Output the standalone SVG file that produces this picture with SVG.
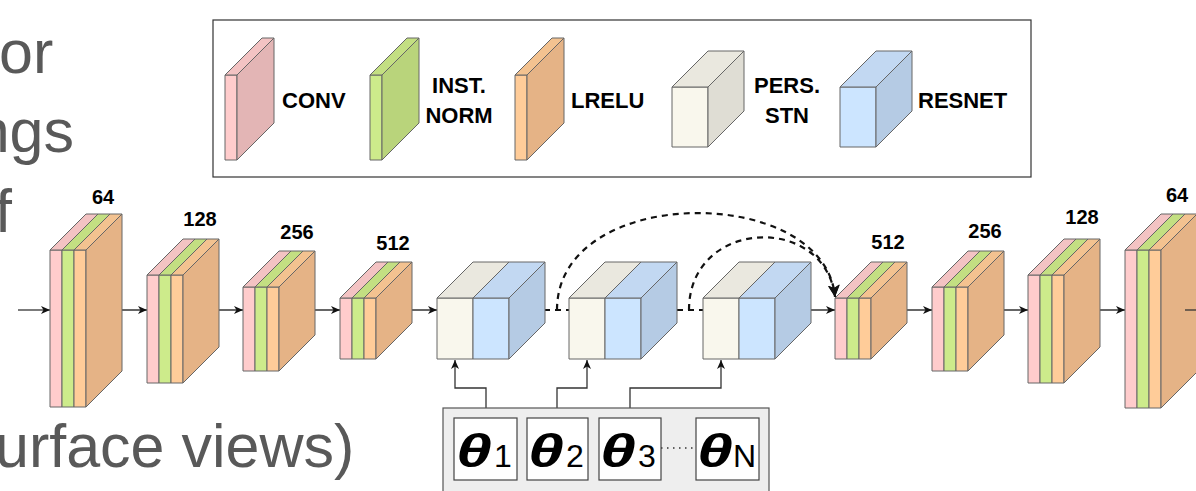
<svg xmlns="http://www.w3.org/2000/svg" width="1196" height="491" viewBox="0 0 1196 491">
<style>
.s{stroke:#666;stroke-width:1;stroke-linejoin:round}
.pk{fill:#FFCCCC}.pkt{fill:#F3C3C3}.pks{fill:#E3B5B5}
.gr{fill:#CDEB8B}.grt{fill:#C3DF82}.grs{fill:#B9D47B}
.or{fill:#FFCC99}.ort{fill:#F3C290}.ors{fill:#E5B386}
.ps{fill:#F9F7ED}.pst{fill:#EAE8DF}.pss{fill:#DFDDD4}
.rs{fill:#CCE5FF}.rst{fill:#C2D8F2}.rss{fill:#B5CBE4}
.lbl{font-family:"Liberation Sans",Arial,sans-serif;font-weight:bold;font-size:20px;fill:#000;text-anchor:middle}
.lg{font-family:"Liberation Sans",Arial,sans-serif;font-weight:bold;font-size:22px;fill:#000}
.bg{font-family:"Liberation Sans",Arial,sans-serif;font-size:61px;fill:#595959}
.ln{fill:none;stroke:#333;stroke-width:1.3}
.dl{fill:none;stroke:#111;stroke-width:2.2;stroke-dasharray:6,5}
.th{font-family:"Liberation Sans",Arial,sans-serif;font-weight:bold;font-style:italic;font-size:46px;fill:#000}
.sub{font-family:"Liberation Sans",Arial,sans-serif;font-size:32px;fill:#000}
</style>
<defs>
<marker id="ah" markerWidth="10" markerHeight="8" refX="9" refY="4" orient="auto" markerUnits="userSpaceOnUse">
<path d="M0,0 L9,4 L0,8 L2.5,4 z" fill="#111"/>
</marker>
<marker id="ahb" markerWidth="13" markerHeight="12" refX="12" refY="6" orient="auto" markerUnits="userSpaceOnUse">
<path d="M0,0 L12,6 L0,12 L3,6 z" fill="#111"/>
</marker>
</defs>
<rect width="1196" height="491" fill="#fff"/>

<g id="side-text">
<text class="bg" x="-1" y="73">or</text>
<text class="bg" x="74" y="152" text-anchor="end">ngs</text>
<text class="bg" x="12" y="232" text-anchor="end">f</text>
<text class="bg" x="-5" y="467">urface views)</text>
</g>

<g id="legend">
<rect x="213" y="20" width="818" height="157" fill="#fff" stroke="#333" stroke-width="1.2"/>
<g id="leg-conv" class="s">
<rect class="pk" x="225" y="75" width="12" height="85"/>
<polygon class="pkt" points="225,75 237,75 274,38 262,38"/>
<polygon class="pks" points="237,75 274,38 274,123 237,160"/>
</g>
<text class="lg" x="282" y="108">CONV</text>
<g id="leg-norm" class="s">
<rect class="gr" x="370" y="75" width="12" height="85"/>
<polygon class="grt" points="370,75 382,75 419,38 407,38"/>
<polygon class="grs" points="382,75 419,38 419,123 382,160"/>
</g>
<text class="lg" x="459" y="93" text-anchor="middle">INST.</text>
<text class="lg" x="459" y="123" text-anchor="middle">NORM</text>
<g id="leg-lrelu" class="s">
<rect class="or" x="515" y="75" width="12" height="85"/>
<polygon class="ort" points="515,75 527,75 564,38 552,38"/>
<polygon class="ors" points="527,75 564,38 564,123 527,160"/>
</g>
<text class="lg" x="571" y="108">LRELU</text>
<g id="leg-stn" class="s">
<rect class="ps" x="672" y="87" width="36" height="60"/>
<polygon class="pst" points="672,87 708,87 744,51 708,51"/>
<polygon class="pss" points="708,87 744,51 744,111 708,147"/>
</g>
<text class="lg" x="787" y="93" text-anchor="middle">PERS.</text>
<text class="lg" x="787" y="123" text-anchor="middle">STN</text>
<g id="leg-resnet" class="s">
<rect class="rs" x="840" y="87" width="36" height="60"/>
<polygon class="rst" points="840,87 876,87 912,51 876,51"/>
<polygon class="rss" points="876,87 912,51 912,111 876,147"/>
</g>
<text class="lg" x="918" y="108">RESNET</text>
</g>

<g id="connectors">
<path class="ln" d="M18,310 H50" marker-end="url(#ah)"/>
<path class="ln" d="M111,310 H147" marker-end="url(#ah)"/>
<path class="ln" d="M207,310 H243" marker-end="url(#ah)"/>
<path class="ln" d="M304,310 H340" marker-end="url(#ah)"/>
<path class="ln" d="M400,310 H437" marker-end="url(#ah)"/>
<path class="dl" d="M533,310 H569"/>
<path class="dl" d="M666,310 H703"/>
<path class="ln" d="M798,310 H835" marker-end="url(#ah)"/>
<path class="ln" d="M896,310 H932" marker-end="url(#ah)"/>
<path class="ln" d="M992,310 H1028" marker-end="url(#ah)"/>
<path class="ln" d="M1089,310 H1125" marker-end="url(#ah)"/>
<path class="dl" d="M557,310 C557,183 825,183 835,297" marker-end="url(#ahb)"/>
<path class="dl" d="M689,310 C689,218 825,213 835,297" marker-end="url(#ahb)"/>
<path class="ln" d="M486,418 V388 H455 V360" marker-end="url(#ah)"/>
<path class="ln" d="M557,418 V388 H587 V360" marker-end="url(#ah)"/>
<path class="ln" d="M630,418 V388 H721 V360" marker-end="url(#ah)"/>
</g>

<g id="enc64" class="s">
<rect class="pk" x="50" y="250" width="12" height="157"/><rect class="gr" x="62" y="250" width="12" height="157"/><rect class="or" x="74" y="250" width="12" height="157"/>
<polygon class="pkt" points="50,250 62,250 98,214 86,214"/><polygon class="grt" points="62,250 74,250 110,214 98,214"/><polygon class="ort" points="74,250 86,250 122,214 110,214"/>
<polygon class="ors" points="86,250 122,214 122,371 86,407"/>
</g>
<text class="lbl" x="103" y="204">64</text>
<g id="enc128" class="s">
<rect class="pk" x="147" y="275" width="12" height="108"/><rect class="gr" x="159" y="275" width="12" height="108"/><rect class="or" x="171" y="275" width="12" height="108"/>
<polygon class="pkt" points="147,275 159,275 195,239 183,239"/><polygon class="grt" points="159,275 171,275 207,239 195,239"/><polygon class="ort" points="171,275 183,275 219,239 207,239"/>
<polygon class="ors" points="183,275 219,239 219,347 183,383"/>
</g>
<text class="lbl" x="200" y="226">128</text>
<g id="enc256" class="s">
<rect class="pk" x="243" y="287" width="12" height="84"/><rect class="gr" x="255" y="287" width="12" height="84"/><rect class="or" x="267" y="287" width="12" height="84"/>
<polygon class="pkt" points="243,287 255,287 291,251 279,251"/><polygon class="grt" points="255,287 267,287 303,251 291,251"/><polygon class="ort" points="267,287 279,287 315,251 303,251"/>
<polygon class="ors" points="279,287 315,251 315,335 279,371"/>
</g>
<text class="lbl" x="297" y="239">256</text>
<g id="enc512" class="s">
<rect class="pk" x="340" y="298" width="12" height="61"/><rect class="gr" x="352" y="298" width="12" height="61"/><rect class="or" x="364" y="298" width="12" height="61"/>
<polygon class="pkt" points="340,298 352,298 388,262 376,262"/><polygon class="grt" points="352,298 364,298 400,262 388,262"/><polygon class="ort" points="364,298 376,298 412,262 400,262"/>
<polygon class="ors" points="376,298 412,262 412,323 376,359"/>
</g>
<text class="lbl" x="393" y="250">512</text>

<g id="stn1" class="s">
<rect class="ps" x="437" y="298" width="36" height="61"/><rect class="rs" x="473" y="298" width="36" height="61"/>
<polygon class="pst" points="437,298 473,298 509,262 473,262"/><polygon class="rst" points="473,298 509,298 545,262 509,262"/>
<polygon class="rss" points="509,298 545,262 545,323 509,359"/>
</g>
<g id="stn2" class="s">
<rect class="ps" x="569" y="298" width="36" height="61"/><rect class="rs" x="605" y="298" width="36" height="61"/>
<polygon class="pst" points="569,298 605,298 641,262 605,262"/><polygon class="rst" points="605,298 641,298 677,262 641,262"/>
<polygon class="rss" points="641,298 677,262 677,323 641,359"/>
</g>
<g id="stn3" class="s">
<rect class="ps" x="703" y="298" width="36" height="61"/><rect class="rs" x="739" y="298" width="36" height="61"/>
<polygon class="pst" points="703,298 739,298 775,262 739,262"/><polygon class="rst" points="739,298 775,298 811,262 775,262"/>
<polygon class="rss" points="775,298 811,262 811,323 775,359"/>
</g>

<g id="dec512" class="s">
<rect class="pk" x="835" y="298" width="12" height="61"/><rect class="gr" x="847" y="298" width="12" height="61"/><rect class="or" x="859" y="298" width="12" height="61"/>
<polygon class="pkt" points="835,298 847,298 883,262 871,262"/><polygon class="grt" points="847,298 859,298 895,262 883,262"/><polygon class="ort" points="859,298 871,298 907,262 895,262"/>
<polygon class="ors" points="871,298 907,262 907,323 871,359"/>
</g>
<text class="lbl" x="888" y="249">512</text>
<g id="dec256" class="s">
<rect class="pk" x="932" y="287" width="12" height="84"/><rect class="gr" x="944" y="287" width="12" height="84"/><rect class="or" x="956" y="287" width="12" height="84"/>
<polygon class="pkt" points="932,287 944,287 980,251 968,251"/><polygon class="grt" points="944,287 956,287 992,251 980,251"/><polygon class="ort" points="956,287 968,287 1004,251 992,251"/>
<polygon class="ors" points="968,287 1004,251 1004,335 968,371"/>
</g>
<text class="lbl" x="985" y="238">256</text>
<g id="dec128" class="s">
<rect class="pk" x="1028" y="275" width="12" height="108"/><rect class="gr" x="1040" y="275" width="12" height="108"/><rect class="or" x="1052" y="275" width="12" height="108"/>
<polygon class="pkt" points="1028,275 1040,275 1076,239 1064,239"/><polygon class="grt" points="1040,275 1052,275 1088,239 1076,239"/><polygon class="ort" points="1052,275 1064,275 1100,239 1088,239"/>
<polygon class="ors" points="1064,275 1100,239 1100,347 1064,383"/>
</g>
<text class="lbl" x="1082" y="224">128</text>
<g id="dec64" class="s">
<rect class="pk" x="1125" y="250" width="12" height="158"/><rect class="gr" x="1137" y="250" width="12" height="158"/><rect class="or" x="1149" y="250" width="12" height="158"/>
<polygon class="pkt" points="1125,250 1137,250 1173,214 1161,214"/><polygon class="grt" points="1137,250 1149,250 1185,214 1173,214"/><polygon class="ort" points="1149,250 1161,250 1197,214 1185,214"/>
<polygon class="ors" points="1161,250 1197,214 1197,372 1161,408"/>
</g>
<text class="lbl" x="1177" y="202">64</text>
<path class="ln" d="M1185,310 H1200"/>

<g id="theta-panel">
<rect x="443" y="408" width="326" height="90" fill="#EEEEEE" stroke="#555" stroke-width="1.2"/>
<path d="M661,448 H696" fill="none" stroke="#333" stroke-width="1.5" stroke-dasharray="1.5,4.5"/>
<g id="theta1"><rect x="454" y="418" width="63" height="62" fill="#fff" stroke="#444" stroke-width="1.2"/>
<text class="th" transform="translate(456,467) scale(1.4,1)">θ</text><text class="sub" x="494" y="467">1</text></g>
<g id="theta2"><rect x="527" y="418" width="61" height="62" fill="#fff" stroke="#444" stroke-width="1.2"/>
<text class="th" transform="translate(528,467) scale(1.4,1)">θ</text><text class="sub" x="566" y="467">2</text></g>
<g id="theta3"><rect x="599" y="418" width="62" height="62" fill="#fff" stroke="#444" stroke-width="1.2"/>
<text class="th" transform="translate(600,467) scale(1.4,1)">θ</text><text class="sub" x="638" y="467">3</text></g>
<g id="thetaN"><rect x="696" y="418" width="63" height="62" fill="#fff" stroke="#444" stroke-width="1.2"/>
<text class="th" transform="translate(697,467) scale(1.4,1)">θ</text><text class="sub" x="733" y="467">N</text></g>
</g>
</svg>
